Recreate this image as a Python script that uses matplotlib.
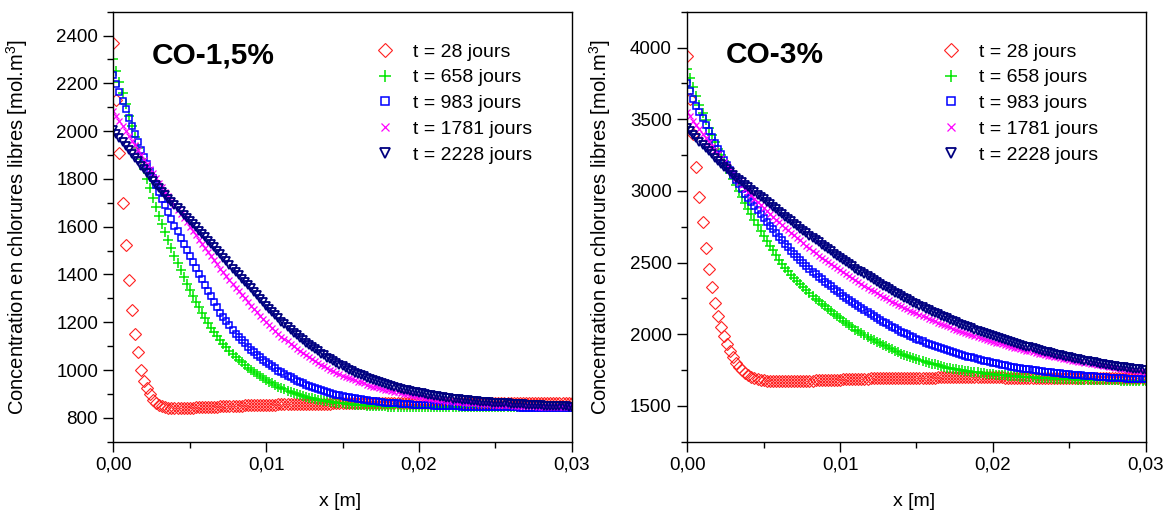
import numpy as np
import matplotlib.pyplot as plt
from matplotlib.ticker import MultipleLocator, FuncFormatter

plt.rcParams['font.family'] = ['Liberation Sans', 'DejaVu Sans']

# profondeur x [m] : grille du calcul, pas de 0,2 mm
x = np.linspace(0, 0.03, 151)

labels = ['t = 28 jours', 't = 658 jours', 't = 983 jours', 't = 1781 jours', 't = 2228 jours']

# ---- CO-1,5% ----
co15_28 = [2370, 2130, 1910, 1700, 1525, 1375, 1250, 1150, 1075, 1000,
           955, 925, 898, 876, 862, 853, 848, 845, 843, 842,
           841, 841, 841, 842, 842, 843, 843, 844, 844, 845,
           845, 846, 846, 847, 847, 848, 848, 849, 849, 850,
           850, 851, 851, 852, 852, 852, 853, 853, 854, 854,
           854, 855, 855, 855, 856, 856, 856, 857, 857, 857,
           857, 858, 858, 858, 858, 858, 859, 859, 859, 859,
           859, 859, 860, 860, 860, 860, 860, 860, 860, 860,
           860, 860, 861, 861, 861, 861, 861, 861, 861, 861,
           861, 861, 861, 861, 861, 861, 861, 861, 861, 861,
           861, 861, 861, 861, 861, 862, 862, 862, 862, 862,
           862, 862, 862, 862, 862, 862, 862, 862, 862, 862,
           862, 862, 862, 862, 862, 862, 862, 862, 862, 862,
           862, 862, 862, 862, 862, 862, 862, 862, 862, 862,
           862, 862, 862, 862, 862, 862, 862, 862, 862, 862,
           862]
co15_658 = [2300, 2253, 2206, 2159, 2112, 2065, 2020, 1975, 1930, 1885,
            1840, 1800, 1760, 1721, 1683, 1645, 1610, 1576, 1543, 1510,
            1478, 1448, 1419, 1390, 1362, 1335, 1310, 1286, 1263, 1240,
            1218, 1197, 1177, 1159, 1141, 1125, 1110, 1095, 1081, 1068,
            1055, 1043, 1032, 1021, 1010, 1000, 991, 982, 974, 966,
            958, 951, 944, 937, 931, 925, 920, 914, 909, 904,
            900, 896, 892, 888, 885, 882, 879, 876, 873, 871,
            869, 867, 865, 863, 862, 860, 859, 858, 856, 855,
            854, 853, 852, 851, 850, 850, 849, 849, 848, 848,
            847, 847, 847, 846, 846, 846, 846, 845, 845, 845,
            845, 845, 845, 845, 845, 845, 845, 845, 845, 845,
            845, 845, 845, 845, 845, 845, 845, 845, 845, 845,
            845, 845, 845, 845, 845, 845, 845, 845, 845, 845,
            845, 845, 845, 845, 845, 845, 845, 845, 845, 845,
            845, 845, 845, 845, 845, 845, 845, 845, 845, 845,
            845]
co15_983 = [2235, 2199, 2163, 2127, 2091, 2055, 2022, 1989, 1956, 1923,
            1890, 1861, 1832, 1803, 1774, 1745, 1717, 1689, 1661, 1633,
            1605, 1580, 1554, 1529, 1503, 1478, 1453, 1429, 1404, 1380,
            1355, 1332, 1309, 1286, 1263, 1240, 1222, 1204, 1187, 1169,
            1152, 1139, 1125, 1112, 1098, 1085, 1075, 1064, 1053, 1042,
            1032, 1024, 1015, 1007, 998, 990, 983, 976, 969, 962,
            955, 950, 944, 939, 933, 928, 924, 920, 915, 911,
            907, 904, 901, 897, 894, 891, 889, 886, 884, 881,
            879, 877, 875, 874, 872, 870, 869, 867, 866, 864,
            863, 862, 861, 860, 859, 858, 857, 856, 855, 855,
            854, 853, 853, 852, 852, 851, 851, 850, 850, 849,
            849, 849, 848, 848, 847, 847, 847, 847, 846, 846,
            846, 846, 846, 845, 845, 845, 845, 845, 844, 844,
            844, 844, 844, 843, 843, 843, 843, 843, 842, 842,
            842, 842, 842, 842, 841, 841, 841, 841, 841, 841,
            841]
co15_1781 = [2085, 2064, 2043, 2022, 2001, 1980, 1960, 1940, 1920, 1900,
             1880, 1861, 1842, 1823, 1804, 1785, 1766, 1747, 1728, 1709,
             1690, 1672, 1654, 1636, 1618, 1600, 1582, 1564, 1546, 1528,
             1510, 1493, 1476, 1459, 1442, 1425, 1409, 1393, 1377, 1361,
             1345, 1330, 1315, 1300, 1285, 1270, 1256, 1242, 1228, 1214,
             1200, 1188, 1176, 1164, 1152, 1140, 1130, 1120, 1110, 1100,
             1090, 1081, 1072, 1063, 1054, 1045, 1038, 1030, 1023, 1015,
             1008, 1002, 996, 989, 983, 977, 972, 967, 962, 957,
             952, 948, 944, 939, 935, 931, 928, 925, 921, 918,
             915, 912, 909, 906, 903, 900, 898, 895, 893, 890,
             888, 886, 884, 882, 880, 878, 876, 875, 873, 872,
             870, 869, 868, 866, 865, 864, 863, 862, 861, 860,
             859, 858, 857, 857, 856, 855, 854, 854, 853, 853,
             852, 851, 851, 850, 850, 849, 849, 848, 848, 847,
             847, 847, 846, 846, 845, 845, 845, 844, 844, 844,
             844]
co15_2228 = [2005, 1988, 1972, 1955, 1939, 1922, 1906, 1889, 1873, 1856,
             1840, 1824, 1808, 1792, 1776, 1760, 1746, 1732, 1718, 1704,
             1690, 1677, 1664, 1651, 1638, 1625, 1611, 1597, 1583, 1569,
             1555, 1541, 1527, 1513, 1499, 1485, 1470, 1455, 1440, 1425,
             1410, 1396, 1383, 1369, 1356, 1342, 1328, 1313, 1299, 1284,
             1270, 1256, 1243, 1229, 1216, 1202, 1191, 1179, 1168, 1156,
             1145, 1135, 1125, 1115, 1105, 1095, 1086, 1078, 1069, 1061,
             1052, 1045, 1037, 1030, 1022, 1015, 1009, 1002, 996, 989,
             983, 978, 973, 968, 963, 958, 954, 949, 945, 940,
             936, 932, 929, 925, 922, 918, 915, 912, 910, 907,
             904, 902, 899, 897, 894, 892, 890, 888, 886, 884,
             882, 880, 879, 877, 876, 874, 873, 872, 870, 869,
             868, 867, 866, 865, 864, 863, 862, 861, 861, 860,
             859, 858, 857, 857, 856, 855, 854, 854, 853, 853,
             852, 851, 851, 850, 850, 849, 849, 848, 848, 847,
             847]

# ---- CO-3% ----
co3_28 = [3940, 3640, 3400, 3170, 2960, 2780, 2600, 2455, 2330, 2220,
          2125, 2050, 1985, 1930, 1880, 1838, 1802, 1772, 1748, 1728,
          1713, 1702, 1695, 1689, 1684, 1680, 1677, 1675, 1674, 1673,
          1673, 1672, 1672, 1672, 1673, 1673, 1674, 1674, 1675, 1675,
          1676, 1677, 1678, 1679, 1679, 1680, 1681, 1682, 1683, 1683,
          1684, 1685, 1686, 1686, 1687, 1688, 1689, 1689, 1690, 1690,
          1691, 1691, 1692, 1692, 1693, 1693, 1694, 1694, 1694, 1695,
          1695, 1695, 1696, 1696, 1696, 1696, 1697, 1697, 1697, 1697,
          1697, 1697, 1698, 1698, 1698, 1698, 1698, 1698, 1698, 1698,
          1698, 1698, 1698, 1698, 1698, 1698, 1698, 1698, 1698, 1698,
          1698, 1698, 1698, 1698, 1697, 1697, 1697, 1697, 1697, 1697,
          1697, 1696, 1696, 1696, 1696, 1696, 1696, 1695, 1695, 1695,
          1695, 1695, 1695, 1695, 1694, 1694, 1694, 1694, 1694, 1694,
          1693, 1693, 1693, 1693, 1693, 1693, 1692, 1692, 1692, 1692,
          1692, 1692, 1692, 1691, 1691, 1691, 1691, 1691, 1691, 1691,
          1690]
co3_658 = [3850, 3785, 3722, 3661, 3602, 3545, 3492, 3441, 3391, 3343,
           3295, 3251, 3208, 3165, 3122, 3080, 3039, 2998, 2957, 2916,
           2875, 2837, 2799, 2761, 2723, 2685, 2651, 2617, 2584, 2552,
           2520, 2492, 2465, 2439, 2414, 2390, 2368, 2347, 2326, 2305,
           2285, 2267, 2249, 2231, 2213, 2195, 2178, 2161, 2144, 2127,
           2110, 2094, 2078, 2062, 2047, 2032, 2019, 2006, 1994, 1982,
           1970, 1959, 1948, 1937, 1926, 1915, 1905, 1895, 1885, 1875,
           1865, 1857, 1850, 1842, 1835, 1828, 1821, 1815, 1808, 1802,
           1795, 1789, 1784, 1778, 1773, 1767, 1763, 1759, 1755, 1752,
           1749, 1746, 1742, 1739, 1736, 1733, 1730, 1728, 1725, 1723,
           1720, 1718, 1716, 1714, 1712, 1710, 1708, 1707, 1705, 1704,
           1702, 1701, 1699, 1698, 1696, 1695, 1694, 1693, 1692, 1691,
           1690, 1689, 1688, 1688, 1687, 1686, 1685, 1685, 1684, 1684,
           1683, 1682, 1682, 1681, 1681, 1680, 1680, 1679, 1679, 1678,
           1678, 1678, 1677, 1677, 1676, 1676, 1676, 1675, 1675, 1674,
           1674]
co3_983 = [3755, 3695, 3640, 3595, 3550, 3505, 3462, 3420, 3378, 3336,
           3295, 3256, 3218, 3181, 3145, 3110, 3077, 3045, 3013, 2981,
           2950, 2921, 2893, 2865, 2837, 2810, 2783, 2757, 2731, 2705,
           2680, 2655, 2631, 2607, 2583, 2560, 2539, 2518, 2497, 2476,
           2455, 2437, 2419, 2401, 2383, 2365, 2349, 2333, 2317, 2301,
           2285, 2270, 2255, 2240, 2225, 2210, 2196, 2182, 2168, 2154,
           2140, 2127, 2114, 2101, 2088, 2075, 2064, 2052, 2041, 2029,
           2018, 2008, 1998, 1988, 1978, 1968, 1959, 1951, 1942, 1934,
           1925, 1918, 1910, 1903, 1895, 1888, 1881, 1875, 1868, 1862,
           1855, 1849, 1843, 1838, 1832, 1826, 1821, 1816, 1810, 1805,
           1800, 1796, 1791, 1787, 1782, 1778, 1774, 1771, 1767, 1764,
           1760, 1757, 1754, 1751, 1748, 1745, 1742, 1739, 1737, 1734,
           1731, 1729, 1727, 1724, 1722, 1720, 1718, 1716, 1714, 1712,
           1710, 1708, 1706, 1705, 1703, 1701, 1700, 1698, 1697, 1695,
           1694, 1693, 1692, 1691, 1690, 1689, 1688, 1687, 1686, 1686,
           1685]
co3_1781 = [3550, 3520, 3490, 3460, 3430, 3400, 3371, 3342, 3313, 3284,
            3255, 3227, 3199, 3171, 3143, 3115, 3090, 3065, 3040, 3015,
            2990, 2968, 2946, 2924, 2902, 2880, 2860, 2840, 2820, 2800,
            2780, 2762, 2744, 2726, 2708, 2690, 2672, 2654, 2636, 2618,
            2600, 2583, 2566, 2549, 2532, 2515, 2501, 2487, 2473, 2459,
            2445, 2431, 2417, 2403, 2389, 2375, 2362, 2349, 2336, 2323,
            2310, 2298, 2286, 2274, 2262, 2250, 2239, 2228, 2217, 2206,
            2195, 2185, 2175, 2165, 2155, 2145, 2136, 2126, 2117, 2107,
            2098, 2089, 2081, 2072, 2064, 2055, 2047, 2039, 2031, 2023,
            2015, 2008, 2001, 1994, 1987, 1980, 1974, 1967, 1961, 1954,
            1948, 1942, 1936, 1930, 1924, 1918, 1912, 1907, 1901, 1896,
            1890, 1885, 1880, 1875, 1870, 1865, 1860, 1856, 1851, 1847,
            1842, 1838, 1833, 1829, 1824, 1820, 1816, 1812, 1808, 1804,
            1800, 1796, 1793, 1789, 1786, 1782, 1779, 1775, 1772, 1768,
            1765, 1762, 1759, 1756, 1753, 1750, 1747, 1745, 1742, 1740,
            1737]
co3_2228 = [3440, 3416, 3392, 3368, 3344, 3320, 3298, 3276, 3254, 3232,
            3210, 3190, 3170, 3150, 3130, 3110, 3093, 3076, 3059, 3042,
            3025, 3008, 2991, 2974, 2957, 2940, 2923, 2906, 2889, 2872,
            2855, 2838, 2821, 2804, 2787, 2770, 2754, 2737, 2721, 2704,
            2688, 2672, 2656, 2640, 2624, 2608, 2593, 2578, 2562, 2547,
            2532, 2517, 2502, 2488, 2473, 2458, 2444, 2431, 2417, 2404,
            2390, 2377, 2364, 2352, 2339, 2326, 2314, 2302, 2290, 2278,
            2266, 2255, 2244, 2232, 2221, 2210, 2200, 2189, 2179, 2168,
            2158, 2148, 2139, 2129, 2120, 2110, 2101, 2092, 2083, 2074,
            2065, 2057, 2049, 2040, 2032, 2024, 2017, 2009, 2002, 1994,
            1987, 1980, 1973, 1966, 1959, 1953, 1946, 1940, 1933, 1927,
            1920, 1914, 1908, 1902, 1896, 1890, 1884, 1879, 1873, 1868,
            1862, 1857, 1852, 1848, 1843, 1838, 1833, 1829, 1824, 1820,
            1815, 1811, 1807, 1803, 1799, 1795, 1791, 1788, 1784, 1781,
            1777, 1774, 1771, 1768, 1765, 1762, 1759, 1756, 1754, 1751,
            1748]

# style des symboles (comme Origin)
styles = [dict(marker='D', color='#ff2020', ms=6, mfc='none', mew=0.8),
          dict(marker='+', color='#00e600', ms=7, mew=1.1),
          dict(marker='s', color='#0000ff', ms=4.8, mfc='none', mew=1.1),
          dict(marker='x', color='#ff00ff', ms=4.8, mew=0.9),
          dict(marker='v', color='#000080', ms=5.8, mfc='none', mew=1.3)]


def panel(ax, series, titre, ymin, ymax, major, minor, leg_x):
    for y, st, lab in zip(series, styles, labels):
        ax.plot(x, y, ls='none', label=lab, **st)
    ax.set_xlim(0, 0.03)
    ax.set_ylim(ymin, ymax)
    ax.xaxis.set_major_locator(MultipleLocator(0.01))
    ax.xaxis.set_minor_locator(MultipleLocator(0.005))
    ax.yaxis.set_major_locator(MultipleLocator(major))
    ax.yaxis.set_minor_locator(MultipleLocator(minor))
    ax.xaxis.set_major_formatter(FuncFormatter(lambda v, p: ('%.2f' % v).replace('.', ',')))
    ax.tick_params(which='both', direction='out', top=False, right=False, width=1, labelsize=13.5)
    ax.tick_params(which='major', length=7, pad=4)
    ax.tick_params(which='minor', length=4)
    for s in ax.spines.values():
        s.set_linewidth(1.0)
    ax.set_xlabel('x [m]', fontsize=14)
    ax.set_ylabel(r'Concentration en chlorures libres [mol.m$^{\mathregular{3}}$]', fontsize=14.5)
    ax.text(0.084, 0.88, titre, transform=ax.transAxes, fontsize=21.5, fontweight='bold', va='baseline')
    ax.legend(loc='upper left', bbox_to_anchor=(leg_x, 0.95), frameon=False, numpoints=1,
              fontsize=14, borderpad=0, handlelength=0.9, handletextpad=1.0,
              labelspacing=0.42, markerscale=1.25)


fig = plt.figure(figsize=(11.66, 5.11), dpi=100)
ax1 = fig.add_axes([0.0972, 0.1356, 0.3931, 0.8415])
ax2 = fig.add_axes([0.5894, 0.1356, 0.3931, 0.8415])

panel(ax1, [co15_28, co15_658, co15_983, co15_1781, co15_2228], 'CO-1,5%', 700, 2500, 200, 100, 0.553)
panel(ax2, [co3_28, co3_658, co3_983, co3_1781, co3_2228], 'CO-3%', 1250, 4250, 500, 250, 0.535)

ax1.yaxis.set_label_coords(-0.182, 0.5)
ax2.yaxis.set_label_coords(-0.162, 0.5)
ax1.xaxis.set_label_coords(0.495, -0.12)
ax2.xaxis.set_label_coords(0.495, -0.12)

fig.savefig('out.png', dpi=100)
